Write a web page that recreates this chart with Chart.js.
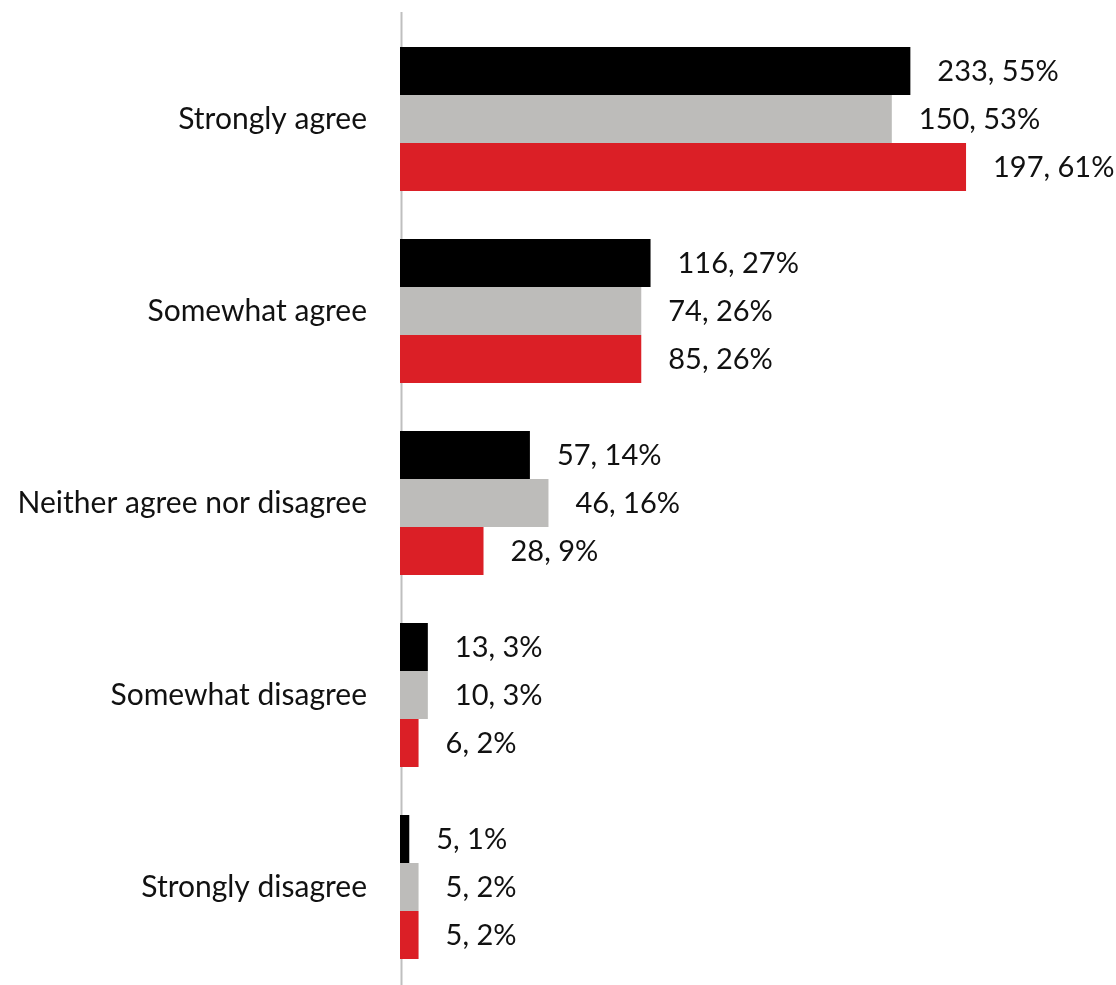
<!DOCTYPE html>
<html>
<head>
<meta charset="utf-8">
<script src="https://cdn.jsdelivr.net/npm/chart.js@4/dist/chart.umd.min.js"></script>
<style>
  html, body { margin: 0; padding: 0; background: #ffffff; }
  #wrap { width: 1116px; height: 985px; position: relative; }
</style>
</head>
<body>
<div id="wrap"><canvas id="c" width="1116" height="985"></canvas></div>
<script>
const categories = ["Strongly agree", "Somewhat agree", "Neither agree nor disagree", "Somewhat disagree", "Strongly disagree"];
const countsA = [233, 116, 57, 13, 5];
const countsB = [150, 74, 46, 10, 5];
const countsC = [197, 85, 28, 6, 5];
const pctA = [55, 27, 14, 3, 1];
const pctB = [53, 26, 16, 3, 2];
const pctC = [61, 26, 9, 2, 2];
const seriesNames = ["Group A", "Group B", "Group C"];
const seriesColors = ["#000000", "#bdbcba", "#db1f26"];

const FONT = "Lato, 'Open Sans', sans-serif";

const axisLine = {
  id: 'axisLine',
  beforeDatasetsDraw(chart) {
    const ctx = chart.ctx;
    const x = chart.scales.x.getPixelForValue(0) + 1.5;
    ctx.save();
    ctx.strokeStyle = '#bfbfbf';
    ctx.lineWidth = 2;
    ctx.beginPath();
    ctx.moveTo(x, 12);
    ctx.lineTo(x, chart.height);
    ctx.stroke();
    ctx.restore();
  }
};

const barLabels = {
  id: 'barLabels',
  afterDatasetsDraw(chart) {
    const ctx = chart.ctx;
    ctx.save();
    ctx.font = "29px " + FONT;
    ctx.fillStyle = '#111111';
    ctx.textAlign = 'left';
    ctx.textBaseline = 'middle';
    chart.data.datasets.forEach((ds, di) => {
      const meta = chart.getDatasetMeta(di);
      meta.data.forEach((bar, i) => {
        const txt = ds.counts[i] + ', ' + ds.data[i] + '%';
        ctx.fillText(txt, bar.x + 27, bar.y + 1);
      });
    });
    ctx.restore();
  }
};

new Chart(document.getElementById('c'), {
  type: 'bar',
  data: {
    labels: categories,
    datasets: [
      { label: seriesNames[0], data: pctA, counts: countsA, backgroundColor: seriesColors[0] },
      { label: seriesNames[1], data: pctB, counts: countsB, backgroundColor: seriesColors[1] },
      { label: seriesNames[2], data: pctC, counts: countsC, backgroundColor: seriesColors[2] }
    ]
  },
  options: {
    indexAxis: 'y',
    responsive: false,
    animation: false,
    devicePixelRatio: 1,
    layout: { padding: { top: 23, bottom: 2, left: 0, right: 0 } },
    datasets: { bar: { categoryPercentage: 0.75, barPercentage: 1.0, borderWidth: 0 } },
    plugins: { legend: { display: false }, tooltip: { enabled: false } },
    scales: {
      x: {
        display: false,
        min: 0,
        max: 77.16
      },
      y: {
        afterFit(scale) { scale.width = 400; scale.paddingTop = 0; scale.paddingBottom = 0; },
        grid: { display: false, drawTicks: false },
        border: { display: false },
        ticks: {
          padding: 33,
          color: '#111111',
          font: { family: FONT, size: 30 }
        }
      }
    }
  },
  plugins: [axisLine, barLabels]
});
</script>
</body>
</html>
